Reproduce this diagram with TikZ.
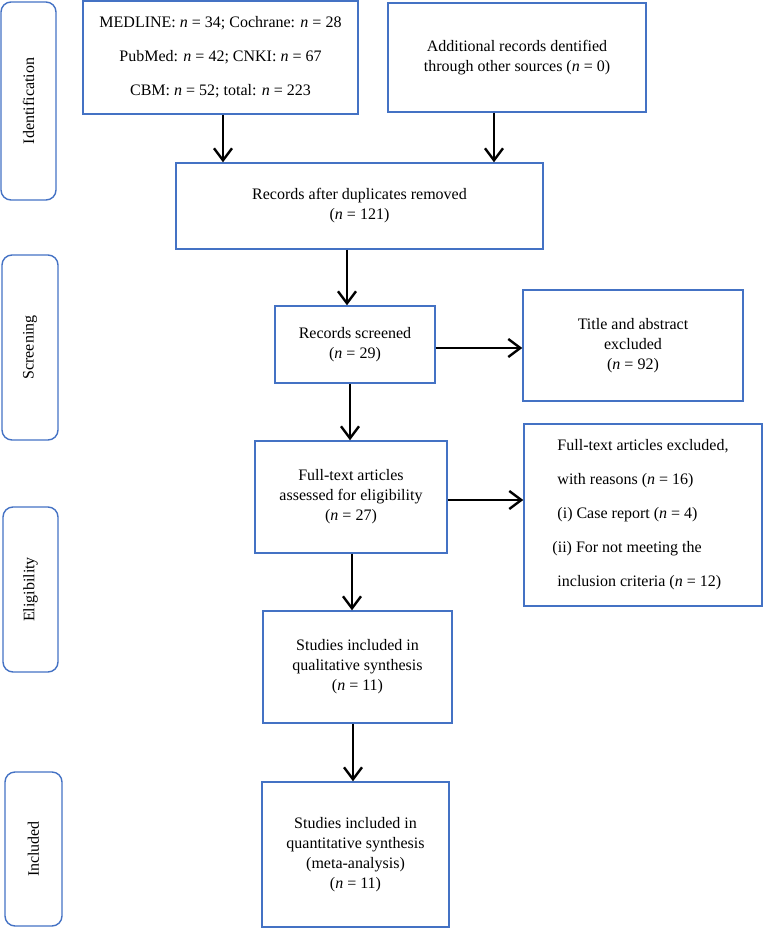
\documentclass[tikz,border=0pt]{standalone}
\usepackage{fontspec}
\setmainfont{Liberation Serif}
\usetikzlibrary{arrows.meta}
\definecolor{boxblue}{HTML}{4472C4}
\begin{document}
\begin{tikzpicture}[x=1pt,y=-1pt,
  box/.style={draw=boxblue, line width=1.4pt, align=center, inner sep=0pt,
    font=\fontsize{16}{20}\selectfont},
  side/.style={draw=boxblue, line width=1.4pt, rounded corners=10pt, inner sep=0pt,
    font=\fontsize{16}{20}\selectfont},
  sidetext/.style={rotate=90, font=\fontsize{16}{20}\selectfont, inner sep=0pt},
  arr/.style={-{Straight Barb[length=12pt,width=18pt]}, line width=2.4pt}]
\useasboundingbox (0,0) rectangle (763,928);
% side labels
\node[side, minimum width=55pt, minimum height=198pt] (sI) at (28.5,101) {};
\node[sidetext] (tI) at (sI.center) {Identification};
\node[side, minimum width=56pt, minimum height=185pt] (sS) at (30,347.5) {};
\node[sidetext] (tS) at (sS.center) {Screening};
\node[side, minimum width=55pt, minimum height=165pt] (sE) at (30.5,589.5) {};
\node[sidetext] (tE) at (sE.center) {Eligibility};
\node[side, minimum width=57pt, minimum height=154pt] (sN) at (33.5,849) {};
\node[sidetext] (tN) at (sN.center) {Included};
% boxes
\node[box, minimum width=275pt, minimum height=113pt, font=\fontsize{16}{34}\selectfont] (A) at (220.5,57.5)
  {MEDLINE: \textit{n} = 34; Cochrane: \textit{n} = 28\\PubMed: \textit{n} = 42; CNKI: \textit{n} = 67\\CBM: \textit{n} = 52; total: \textit{n} = 223};
\node[box, minimum width=258pt, minimum height=109pt] (B) at (517,57.5)
  {Additional records dentified\\through other sources (\textit{n} = 0)};
\node[box, minimum width=367pt, minimum height=86pt] (C) at (359.5,206)
  {Records after duplicates removed\\(\textit{n} = 121)};
\node[box, minimum width=160pt, minimum height=77pt] (D) at (355,344.5)
  {Records screened\\(\textit{n} = 29)};
\node[box, minimum width=220pt, minimum height=111pt] (E) at (633,345.5)
  {Title and abstract\\excluded\\(\textit{n} = 92)};
\node[box, minimum width=192pt, minimum height=112pt] (F) at (351,497)
  {Full-text articles\\assessed for eligibility\\(\textit{n} = 27)};
\node[box, minimum width=238pt, minimum height=182pt, align=left, font=\fontsize{16}{34}\selectfont] (G) at (643,515)
  {Full-text articles excluded,\\with reasons (\textit{n} = 16)\\(i) Case report (\textit{n} = 4)\\\hspace*{-5pt}(ii) For not meeting the\\inclusion criteria (\textit{n} = 12)};
\node[box, minimum width=189pt, minimum height=112pt] (H) at (357.5,667)
  {Studies included in\\qualitative synthesis\\(\textit{n} = 11)};
\node[box, minimum width=187pt, minimum height=145pt] (I) at (355.5,854.5)
  {Studies included in\\quantitative synthesis\\(meta-analysis)\\(\textit{n} = 11)};
% arrows
\draw[arr] ([xshift=2.5pt]A.south) -- ([xshift=2.5pt]A.south |- C.north);
\draw[arr] ([xshift=-23pt]B.south) -- ([xshift=-23pt]B.south |- C.north);
\draw[arr] ([xshift=-12.5pt]C.south) -- ([xshift=-12.5pt]C.south |- D.north);
\draw[arr] ([yshift=-3.5pt]D.east) -- ([yshift=-3.5pt]D.east -| E.west);
\draw[arr] ([xshift=-5pt]D.south) -- ([xshift=-5pt]D.south |- F.north);
\draw[arr] ([yshift=-3pt]F.east) -- ([yshift=-3pt]F.east -| G.west);
\draw[arr] ([xshift=1pt]F.south) -- ([xshift=1pt]F.south |- H.north);
\draw[arr] ([xshift=-4.5pt]H.south) -- ([xshift=-4.5pt]H.south |- I.north);
\end{tikzpicture}
\end{document}
